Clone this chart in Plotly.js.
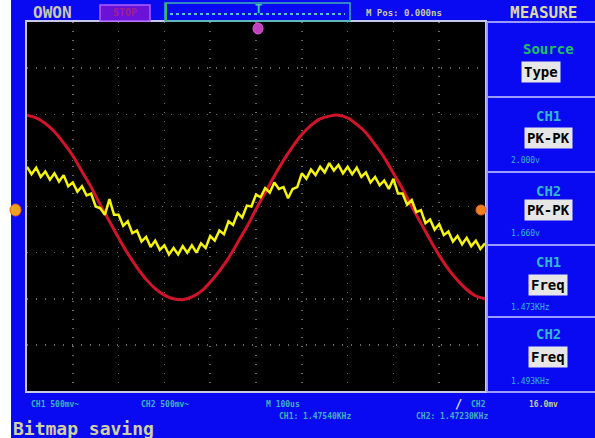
<!DOCTYPE html>
<html><head><meta charset="utf-8">
<script src="https://cdn.plot.ly/plotly-3.0.1.min.js"></script>
<style>body{margin:0;padding:0;background:#fff}#c{width:595px;height:438px}</style>
</head><body><div id="c"></div>
<script>
// time axis in microseconds (100 us/div), voltage in volts (500 mV/div)
const tRed = [-500,-480,-460,-440,-420,-400,-380,-360,-340,-320,-300,-280,-260,-240,-220,-200,-180,-160,-140,-120,-100,-80,-60,-40,-20,0,20,40,60,80,100,120,140,160,180,200,220,240,260,280,300,320,340,360,380,400,420,440,460,480,500];
const vRed = [0.99,0.96,0.90,0.81,0.69,0.55,0.38,0.21,0.02,-0.16,-0.34,-0.51,-0.66,-0.79,-0.89,-0.96,-1.00,-1.01,-0.98,-0.92,-0.82,-0.70,-0.56,-0.39,-0.22,-0.03,0.15,0.33,0.50,0.65,0.78,0.88,0.95,0.98,0.99,0.96,0.89,0.80,0.67,0.53,0.36,0.19,0.00,-0.18,-0.36,-0.53,-0.68,-0.80,-0.90,-0.97,-1.00];
const tYel = [-500,-490,-480,-470,-460,-450,-440,-430,-420,-410,-400,-390,-380,-370,-360,-350,-340,-330,-320,-310,-300,-290,-280,-270,-260,-250,-240,-230,-220,-210,-200,-190,-180,-170,-160,-150,-140,-130,-120,-110,-100,-90,-80,-70,-60,-50,-40,-30,-20,-10,0,10,20,30,40,50,60,70,80,90,100,110,120,130,140,150,160,170,180,190,200,210,220,230,240,250,260,270,280,290,300,310,320,330,340,350,360,370,380,390,400,410,420,430,440,450,460,470,480,490,500];
const vYel = [0.43,0.35,0.42,0.32,0.38,0.29,0.36,0.27,0.34,0.22,0.26,0.16,0.22,0.12,0.14,0.00,-0.02,-0.09,0.08,-0.09,-0.09,-0.21,-0.16,-0.29,-0.26,-0.38,-0.33,-0.44,-0.37,-0.47,-0.42,-0.52,-0.45,-0.52,-0.43,-0.50,-0.42,-0.50,-0.40,-0.45,-0.32,-0.37,-0.26,-0.30,-0.16,-0.20,-0.07,-0.12,0.01,0.00,0.13,0.10,0.20,0.15,0.26,0.19,0.21,0.09,0.19,0.21,0.36,0.30,0.40,0.34,0.43,0.37,0.47,0.39,0.45,0.36,0.43,0.35,0.42,0.32,0.37,0.26,0.32,0.23,0.28,0.19,0.30,0.14,0.14,0.02,0.07,-0.06,-0.04,-0.18,-0.14,-0.25,-0.19,-0.31,-0.27,-0.38,-0.32,-0.41,-0.34,-0.43,-0.37,-0.46,-0.40];

const panelLabels = ["CH1","CH2","CH1","CH2"];
const panelTypes = ["PK-PK","PK-PK","Freq","Freq"];
const panelValues = ["2.000v","1.660v","1.473KHz","1.493KHz"];

const BLUE = "#0a0af2";
const px = x => (x-27)/458;
const py = y => (391-y)/369;
const mono = "DejaVu Sans Mono, Liberation Mono, monospace";

const shapes = [];
const ann = [];
function rect(x0,y0,x1,y1,fill,line,lw){shapes.push({type:"rect",xref:"paper",yref:"paper",x0:px(x0),x1:px(x1),y0:py(y1),y1:py(y0),fillcolor:fill,line:{color:line||fill,width:lw===undefined?0:lw},layer:"above"});}
function hline(x0,x1,y,c,w){shapes.push({type:"line",xref:"paper",yref:"paper",x0:px(x0),x1:px(x1),y0:py(y),y1:py(y),line:{color:c,width:w},layer:"above"});}
function vline(x,y0,y1,c,w){shapes.push({type:"line",xref:"paper",yref:"paper",x0:px(x),x1:px(x),y0:py(y0),y1:py(y1),line:{color:c,width:w},layer:"above"});}
function txt(x,y,s,c,size,anchor,bold,bg){ann.push({xref:"paper",yref:"paper",x:px(x),y:py(y),text:bold?"<b>"+s+"</b>":s,showarrow:false,xanchor:anchor||"center",yanchor:"middle",font:{family:mono,size:size,color:c},bgcolor:bg||"rgba(0,0,0,0)",borderpad:bg?2:0});}

// white strip at left
rect(0,0,11,438,"#ffffff");
// top bar
txt(52,13,"OWON","#c8c8b0",16,"center",true);
rect(100,5,150,21,"#6a12d8","#b060ff",1.5);
txt(125,13,"STOP","#a0208f",10,"center",true);
rect(165,3,350,21,"rgba(0,0,0,0)","#40b0b0",1.5);
vline(166,3,21,"#30c040",2);
hline(170,345,14,"#50c8c8",2);
shapes[shapes.length-1].line.dash="dot";
txt(258,9,"T","#40d0a0",12,"center",true);
txt(365,13,"M Pos: 0.000ns","#c8c8a0",9,"left",true);
txt(543,13,"MEASURE","#d8d8a8",16,"center",true);

// right panel lines
vline(487,22,392,"#9a9aff",2);
[22,97,172,245,317,392].forEach(y=>hline(487,595,y,"#9a9aff",2));
txt(548,49,"Source","#20c060",14,"center",true);
txt(541,72,"Type","#000000",14,"center",true,"#e6e6e6");
const rows = [[116,138,160],[191,210,233],[262,285,307],[334,357,381]];
rows.forEach((r,i)=>{
  txt(548,r[0],panelLabels[i],"#30b8c8",14,"center",true);
  txt(548,r[1],panelTypes[i],"#000000",14,"center",true,"#e6e6e6");
  txt(510,r[2],panelValues[i],"#30b8c8",8,"left",false);
});

// markers
shapes.push({type:"circle",xref:"paper",yref:"paper",x0:px(253),x1:px(263),y0:py(34),y1:py(23),fillcolor:"#c040c0",line:{color:"#e060e0",width:1},layer:"above"});
shapes.push({type:"circle",xref:"paper",yref:"paper",x0:px(10),x1:px(21),y0:py(216),y1:py(204),fillcolor:"#f0a020",line:{color:"#f06020",width:1},layer:"above"});
shapes.push({type:"circle",xref:"paper",yref:"paper",x0:px(476),x1:px(486),y0:py(215),y1:py(205),fillcolor:"#f08020",line:{color:"#f06020",width:1},layer:"above"});

// bottom texts
txt(30,404,"CH1 500mv~","#40b0c0",8,"left",true);
txt(140,404,"CH2 500mv~","#40b0c0",8,"left",true);
txt(265,404,"M 100us","#40b0c0",8,"left",true);
txt(278,416,"CH1: 1.47540KHz","#40b0c0",8,"left",true);
txt(415,416,"CH2: 1.47230KHz","#40b0c0",8,"left",true);
txt(458,404,"/","#e0e0e0",12,"center",true);
txt(470,404,"CH2","#40b0c0",8,"left",true);
txt(528,404,"16.0mv","#c8c8a0",8,"left",true);
txt(12,428,"Bitmap saving","#d0d0a0",18,"left",true);

const data = [
  {x:tRed,y:vRed,type:"scatter",mode:"lines",line:{color:"#d0142a",width:3,shape:"spline"},hoverinfo:"skip"},
  {x:tYel,y:vYel,type:"scatter",mode:"lines",line:{color:"#f4f410",width:2.5},hoverinfo:"skip"}
];
const ax = {showticklabels:false,showgrid:true,gridcolor:"#6a6a6a",griddash:"1px,8px",gridwidth:1.5,zeroline:false,showline:true,mirror:true,linecolor:"#c8c8e8",linewidth:2,ticks:"",fixedrange:true};
const layout = {
  width:595,height:438,
  margin:{l:27,r:110,t:22,b:47,pad:0},
  paper_bgcolor:BLUE,plot_bgcolor:"#000000",
  showlegend:false,
  xaxis:Object.assign({range:[-500,500],dtick:100,tick0:0},ax),
  yaxis:Object.assign({range:[-2,2],dtick:0.5,tick0:0},ax),
  shapes:shapes,annotations:ann
};
Plotly.newPlot("c",data,layout,{staticPlot:true,displayModeBar:false});
</script></body></html>
